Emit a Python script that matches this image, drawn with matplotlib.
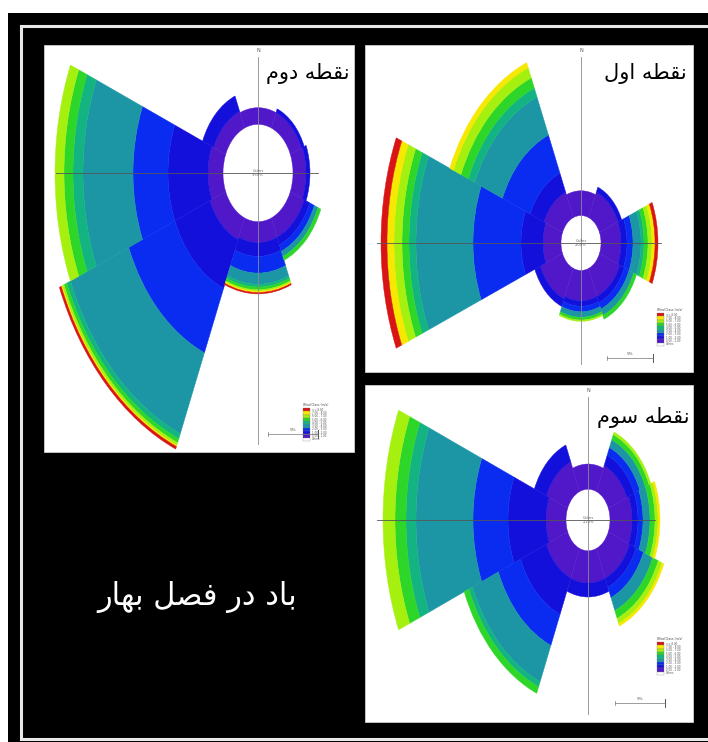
import numpy as np
import matplotlib
matplotlib.use("Agg")
import matplotlib.pyplot as plt
from matplotlib.patches import Rectangle

W, H = 708, 742

# Eight compass sectors, clockwise from north
directions = ["N", "NE", "E", "SE", "S", "SW", "W", "NW"]
dir_deg = [0, 45, 90, 135, 180, 225, 270, 315]

# Wind speed classes (m/s), slowest first
speed_labels = ["0.50 - 1.00", "1.00 - 2.00", "2.00 - 3.00", "3.00 - 4.00",
                "4.00 - 5.00", "5.00 - 6.00", "6.00 - 7.00", "7.00 - 8.00",
                ">= 8.00"]
class_colors = ["#5018c8", "#1410dc", "#0a2cf0", "#1c96a4", "#14b482",
                "#2ed62a", "#a6f010", "#f6e800", "#d81414"]

# Frequency (%) per direction (rows N..NW) and speed class (columns)
freq_point1 = [
    [1.8, 0.0, 0.0, 0.0, 0.0, 0.0, 0.0, 0.0, 0.0],
    [2.0, 0.4, 0.0, 0.0, 0.0, 0.0, 0.0, 0.0, 0.0],
    [2.0, 0.6, 0.6, 0.8, 0.3, 0.4, 0.4, 0.3, 0.3],
    [2.2, 0.5, 0.5, 0.5, 0.0, 0.3, 0.0, 0.0, 0.0],
    [2.2, 0.4, 0.4, 0.4, 0.0, 0.2, 0.1, 0.0, 0.0],
    [2.4, 0.6, 0.0, 0.0, 0.0, 0.0, 0.0, 0.0, 0.0],
    [1.8, 2.2, 4.8, 5.7, 0.7, 0.7, 0.8, 0.7, 0.6],
    [2.0, 1.5, 3.0, 3.0, 0.7, 0.8, 0.8, 0.4, 0.0],
]
freq_point2 = [
    [1.2, 0.0, 0.0, 0.0, 0.0, 0.0, 0.0, 0.0, 0.0],
    [1.2, 0.3, 0.0, 0.0, 0.0, 0.0, 0.0, 0.0, 0.0],
    [1.3, 0.4, 0.0, 0.0, 0.0, 0.0, 0.0, 0.0, 0.0],
    [1.5, 0.6, 0.5, 0.4, 0.0, 0.3, 0.0, 0.0, 0.0],
    [1.5, 1.0, 1.2, 0.8, 0.2, 0.2, 0.1, 0.1, 0.1],
    [1.7, 3.8, 5.0, 6.3, 0.4, 0.3, 0.2, 0.1, 0.2],
    [1.5, 4.0, 3.5, 5.0, 1.0, 0.9, 0.9, 0.0, 0.0],
    [1.3, 1.2, 0.0, 0.0, 0.0, 0.0, 0.0, 0.0, 0.0],
]
freq_point3 = [
    [1.8, 0.0, 0.0, 0.0, 0.0, 0.0, 0.0, 0.0, 0.0],
    [2.0, 0.8, 0.6, 0.6, 0.0, 0.4, 0.2, 0.0, 0.0],
    [2.2, 0.6, 0.5, 0.7, 0.0, 0.5, 0.3, 0.2, 0.0],
    [2.3, 0.7, 0.8, 1.0, 0.0, 0.6, 0.4, 0.2, 0.0],
    [2.3, 1.0, 0.0, 0.0, 0.0, 0.0, 0.0, 0.0, 0.0],
    [2.3, 2.8, 2.4, 2.8, 0.4, 0.5, 0.0, 0.0, 0.0],
    [2.0, 3.8, 3.5, 5.7, 1.0, 1.1, 1.2, 0.0, 0.0],
    [2.3, 1.3, 0.0, 0.0, 0.0, 0.0, 0.0, 0.0, 0.0],
]
calm_pct = [2.0, 3.5, 2.2]

# Persian captions, written in visual order with presentation forms
title_point1 = "\uFEDD\uFEED\uFE8D \uFEEA\uFEC4\uFED8\uFEE7"          # نقطه اول
title_point2 = "\uFEE1\uFEED\uFEA9 \uFEEA\uFEC4\uFED8\uFEE7"          # نقطه دوم
title_point3 = "\uFEE1\uFEEE\uFEB3 \uFEEA\uFEC4\uFED8\uFEE7"          # نقطه سوم
season_caption = ("\uFEAD\uFE8E\uFEEC\uFE91 \uFEDE\uFEBC\uFED3 "
                  "\uFEAD\uFEA9 \uFEA9\uFE8E\uFE91")                 # باد در فصل بهار

fig = plt.figure(figsize=(W / 100, H / 100), dpi=100)
fig.patch.set_facecolor("white")


def px_rect(x0, y0, x1, y1):
    return [x0 / W, 1 - y1 / H, (x1 - x0) / W, (y1 - y0) / H]


# Background frame
bg = fig.add_axes([0, 0, 1, 1], zorder=-5)
bg.set_xlim(0, W)
bg.set_ylim(H, 0)
bg.set_axis_off()
bg.add_patch(Rectangle((8, 13), W, H, facecolor="black", edgecolor="none"))
bg.add_patch(Rectangle((21, 25.5), W + 20, 713.5, facecolor="black",
                       edgecolor="#e8e8e8", linewidth=2.2))

panels = {
    1: dict(box=(365, 45, 693, 372), c=(581, 243), k=1.375, freq=freq_point1,
            title=title_point1, tpos=(645, 74), legend=(657, 313),
            bar=(607, 653, 358), east=80),
    2: dict(box=(44, 45, 354, 452), c=(258, 173), k=1.39, freq=freq_point2,
            title=title_point2, tpos=(308, 73), legend=(303, 408),
            bar=(268, 318, 434), east=60),
    3: dict(box=(365, 385, 693, 722), c=(588, 520), k=1.40, freq=freq_point3,
            title=title_point3, tpos=(643, 418), legend=(657, 642),
            bar=(615, 665, 703), east=67),
}

scale = 10.0   # pixels per percent (horizontal)
rmax = 23.0
theta = np.deg2rad(dir_deg)

for pid, p in sorted(panels.items()):
    x0, y0, x1, y1 = p["box"]
    bg.add_patch(Rectangle((x0, y0), x1 - x0, y1 - y0, facecolor="white",
                           edgecolor="#cfcfcf", linewidth=0.6))

    cx, cy = p["c"]
    k = p["k"]
    half_w = rmax * scale
    half_h = rmax * scale * k
    pax = fig.add_axes(px_rect(cx - half_w, cy - half_h, cx + half_w, cy + half_h),
                       projection="polar", zorder=1)
    pax.set_aspect("auto")
    pax.set_theta_zero_location("N")
    pax.set_theta_direction(-1)
    pax.set_ylim(0, rmax)
    pax.set_axis_off()

    freq = np.array(p["freq"])
    calm = calm_pct[pid - 1]
    bottom = np.full(len(directions), calm)
    clip = fig.add_axes(px_rect(x0, y0, x1, y1), zorder=-4)
    clip.set_axis_off()
    for j, col in enumerate(class_colors):
        nz = freq[:, j] > 0
        if nz.any():
            bars = pax.bar(theta[nz], freq[nz, j], width=np.pi / 4,
                           bottom=bottom[nz], color=col, edgecolor=col,
                           linewidth=0.3, align="center")
            for b in bars:
                b.set_clip_box(clip.bbox)
        bottom = bottom + freq[:, j]

    # Overlay: compass lines, labels, legend and scale bar
    ov = fig.add_axes(px_rect(x0, y0, x1, y1), zorder=2)
    ov.set_xlim(x0, x1)
    ov.set_ylim(y1, y0)
    ov.set_axis_off()
    ov.patch.set_visible(False)
    ov.plot([cx, cx], [y0 + 12, y1 - 8], color="#8a8a8a", lw=0.6)
    ov.plot([x0 + 12, cx + p["east"]], [cy, cy], color="#555555", lw=0.6)
    ov.text(cx, y0 + 6, "N", fontsize=3.5, color="#555555", ha="center", va="center")
    ov.text(cx, cy, f"Calms\n{calm:.2f}%", fontsize=2.6, color="#666666",
            ha="center", va="center", linespacing=1.2)

    ov.text(p["tpos"][0], p["tpos"][1], p["title"], fontsize=15, color="black",
            ha="center", va="center", family=["DejaVu Sans"])

    # legend
    lx, ly = p["legend"]
    cw, ch = 7, 3.3
    ov.text(lx, ly - 3, "Wind Class (m/s)", fontsize=2.2, color="#444444",
            ha="left", va="center")
    items = list(zip(class_colors[::-1], speed_labels[::-1])) + [("white", "Calms")]
    for i, (col, lab) in enumerate(items):
        yy = ly + i * ch
        ov.add_patch(Rectangle((lx, yy), cw, ch, facecolor=col,
                               edgecolor="#777777", linewidth=0.2))
        ov.text(lx + cw + 1.5, yy + ch / 2, lab, fontsize=2.0, color="#555555",
                ha="left", va="center")

    # scale bar
    bx0, bx1, by = p["bar"]
    ov.plot([bx0, bx1], [by, by], color="#777777", lw=0.5)
    ov.plot([bx0, bx0], [by - 2, by + 2], color="#777777", lw=0.5)
    ov.plot([bx1, bx1], [by - 4, by + 4], color="#555555", lw=0.7)
    ov.text((bx0 + bx1) / 2, by - 4, "5%", fontsize=3, color="#555555",
            ha="center", va="center")

bg.text(197, 597, season_caption, fontsize=22, color="white", ha="center",
        va="center", family=["DejaVu Sans"])

fig.savefig("out.png", dpi=100)
